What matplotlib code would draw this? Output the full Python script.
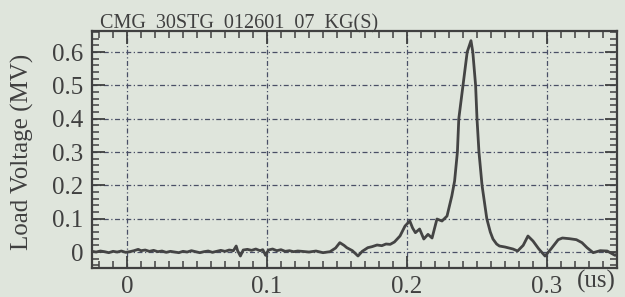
import numpy as np
import matplotlib
matplotlib.use('Agg')
import matplotlib.pyplot as plt
from matplotlib.ticker import MultipleLocator

# Load voltage trace (time in us, voltage in MV)
time_us = [-0.025, -0.022, -0.019, -0.016, -0.013, -0.010, -0.007, -0.004, -0.001,
           0.002, 0.005, 0.008, 0.010, 0.013, 0.016, 0.019, 0.022, 0.025, 0.028,
           0.031, 0.034, 0.037, 0.040, 0.043, 0.046, 0.049, 0.052, 0.055, 0.058,
           0.061, 0.064, 0.067, 0.070, 0.073, 0.076, 0.078, 0.079, 0.081, 0.083,
           0.086, 0.089, 0.092, 0.095, 0.097, 0.099, 0.101, 0.104, 0.107, 0.110,
           0.113, 0.116, 0.119, 0.122,
           0.125, 0.130, 0.135, 0.140, 0.145, 0.149, 0.152, 0.155, 0.157, 0.161,
           0.165, 0.168, 0.172, 0.175, 0.1786, 0.182, 0.185, 0.188, 0.191, 0.195,
           0.1986, 0.202, 0.204, 0.206, 0.209, 0.212, 0.215, 0.2179, 0.2214, 0.225,
           0.2286, 0.232, 0.234, 0.236, 0.237, 0.240, 0.243, 0.2457, 0.247, 0.249,
           0.250, 0.2514, 0.2536, 0.257, 0.2595, 0.2614, 0.264, 0.266, 0.270, 0.2757,
           0.279, 0.283, 0.2864, 0.290, 0.294, 0.2986, 0.303, 0.308, 0.311, 0.316,
           0.321, 0.325, 0.3286, 0.333, 0.338, 0.343, 0.346, 0.3486, 0.350]
load_mv = [0.002, 0.000, 0.003, 0.001, -0.002, 0.002, 0.000, 0.003, -0.001,
           0.001, 0.004, 0.008, 0.004, 0.006, 0.002, 0.005, 0.001, 0.003, -0.001,
           0.002, 0.000, -0.002, 0.002, 0.000, 0.004, 0.001, -0.002, 0.001, 0.003,
           -0.001, 0.002, 0.005, 0.002, 0.006, 0.004, 0.018, 0.004, -0.012, 0.006,
           0.008, 0.005, 0.009, 0.004, 0.007, -0.010, 0.006, 0.009, 0.004, 0.007,
           0.002, 0.004, 0.001, 0.003,
           0.002, 0.000, 0.003, -0.002, 0.001, 0.012, 0.028, 0.020, 0.013, 0.004,
           -0.012, 0.002, 0.013, 0.016, 0.021, 0.019, 0.024, 0.023, 0.030, 0.048,
           0.078, 0.093, 0.072, 0.058, 0.069, 0.039, 0.053, 0.042, 0.099, 0.093,
           0.108, 0.168, 0.213, 0.300, 0.400, 0.500, 0.600, 0.634, 0.600, 0.500,
           0.400, 0.300, 0.200, 0.100, 0.060, 0.039, 0.024, 0.018, 0.015, 0.009,
           0.003, 0.020, 0.048, 0.033, 0.010, -0.012, 0.010, 0.037, 0.042, 0.040,
           0.037, 0.028, 0.013, -0.002, 0.004, 0.003, -0.004, -0.010, -0.006]

x_ticks = [0, 0.1, 0.2, 0.3]
x_ticklabels = ['0', '0.1', '0.2', '0.3']
y_ticks = [0, 0.1, 0.2, 0.3, 0.4, 0.5, 0.6]
y_ticklabels = ['0', '0.1', '0.2', '0.3', '0.4', '0.5', '0.6']

bg = '#dfe5dc'
ink = '#404040'

plt.rcParams['font.family'] = 'Liberation Serif'

fig = plt.figure(figsize=(6.25, 2.97), dpi=100, facecolor=bg)
ax = fig.add_axes([0.1472, 0.0976, 0.84, 0.798], facecolor=bg)

ax.plot(time_us, load_mv, color='#444444', lw=2.0, zorder=3)

ax.set_xlim(-0.025, 0.35)
ax.set_ylim(-0.048, 0.663)

ax.set_xticks(x_ticks)
ax.set_xticklabels(x_ticklabels)
ax.set_yticks(y_ticks)
ax.set_yticklabels(y_ticklabels)
ax.xaxis.set_minor_locator(MultipleLocator(0.01))
ax.yaxis.set_minor_locator(MultipleLocator(0.02))

ax.tick_params(which='both', direction='in', top=True, right=True,
               color=ink, labelcolor=ink, labelsize=18)
ax.tick_params(which='major', length=9, width=1.3, pad=6)
ax.tick_params(which='minor', length=5, width=1.1)

for s in ax.spines.values():
    s.set_linewidth(1.6)
    s.set_color(ink)

ax.grid(True, which='major', color='#4a4f66', lw=0.9,
        linestyle=(0, (4, 2, 1, 2)))

fig.text(22 / 625, 1 - 152 / 297, 'Load Voltage (MV)', fontsize=18, color=ink,
         rotation=90, ha='center', va='center')
fig.text(0.16, 1 - 28 / 297, 'CMG  30STG  012601  07  KG(S)', fontsize=14.5,
         color=ink, ha='left', va='baseline')
fig.text(0.954, 0.015, '(us)', fontsize=18, color=ink, ha='center', va='bottom')

fig.savefig('out.png', dpi=100, facecolor=bg)
